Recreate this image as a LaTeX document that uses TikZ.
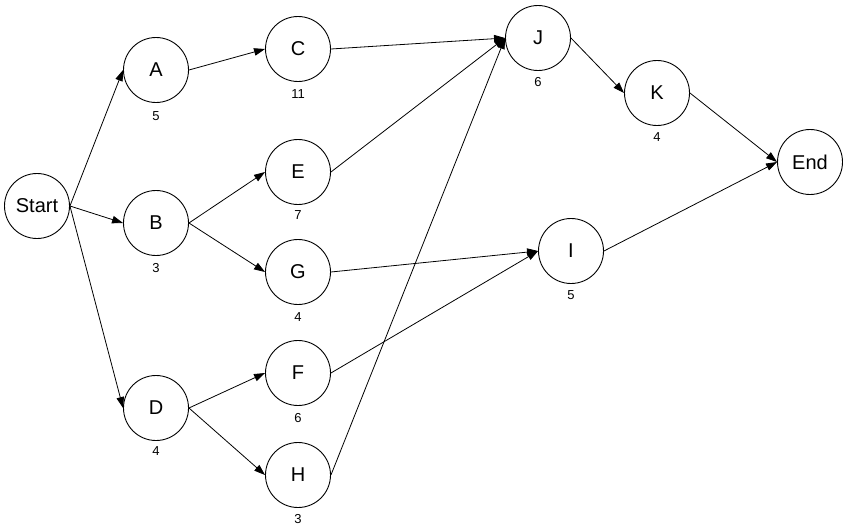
\documentclass[tikz,border=0pt]{standalone}
\usepackage{fontspec}
\setmainfont{Liberation Sans}
\usetikzlibrary{arrows.meta}
\begin{document}
\begin{tikzpicture}[x=1pt,y=-1pt,
  act/.style={circle,draw=black,line width=0.9pt,minimum size=65pt,inner sep=0pt,font=\fontsize{20}{22}\selectfont},
  dur/.style={font=\fontsize{13}{15}\selectfont,inner sep=0pt},
  conn/.style={line width=0.8pt,-{Triangle[length=11pt,width=7.5pt]}}]
\useasboundingbox (0,0) rectangle (848,530);
\node[act] (S) at (37,206) {Start};
\node[act] (A) at (156,70) {A};
\node[act] (B) at (156,223) {B};
\node[act] (D) at (156,408) {D};
\node[act] (C) at (298,49) {C};
\node[act] (E) at (298,172) {E};
\node[act] (G) at (298,272) {G};
\node[act] (F) at (298,373) {F};
\node[act] (H) at (298,475) {H};
\node[act] (J) at (538,38) {J};
\node[act] (K) at (657,93) {K};
\node[act] (I) at (571,251) {I};
\node[act] (End) at (810,162) {End};
\node[dur] (lA) at (156,116) {5};
\node[dur] (lB) at (156,268) {3};
\node[dur] (lD) at (156,451) {4};
\node[dur] (lC) at (298,94) {11};
\node[dur] (lE) at (298,215) {7};
\node[dur] (lG) at (298,317) {4};
\node[dur] (lF) at (298,418) {6};
\node[dur] (lH) at (298,519) {3};
\node[dur] (lJ) at (538,82) {6};
\node[dur] (lK) at (657,137) {4};
\node[dur] (lI) at (571,295) {5};
\draw[conn] (S.east) -- (A.west);
\draw[conn] (S.east) -- (B.west);
\draw[conn] (S.east) -- (D.west);
\draw[conn] (A.east) -- (C.west);
\draw[conn] (B.east) -- (E.west);
\draw[conn] (B.east) -- (G.west);
\draw[conn] (D.east) -- (F.west);
\draw[conn] (D.east) -- (H.west);
\draw[conn] (C.east) -- (J.west);
\draw[conn] (E.east) -- (J.west);
\draw[conn] (H.east) -- (J.west);
\draw[conn] (G.east) -- (I.west);
\draw[conn] (F.east) -- (I.west);
\draw[conn] (J.east) -- (K.west);
\draw[conn] (K.east) -- (End.west);
\draw[conn] (I.east) -- (End.west);
\end{tikzpicture}
\end{document}
